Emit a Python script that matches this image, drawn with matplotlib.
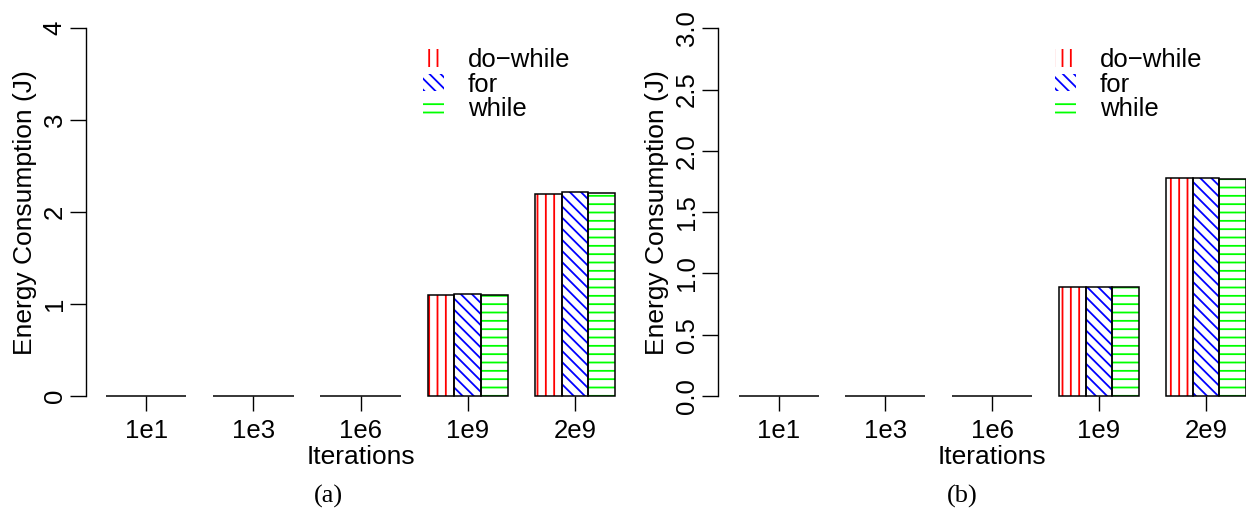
import matplotlib
matplotlib.use('Agg')
import matplotlib.pyplot as plt
from matplotlib.patches import Patch
import numpy as np

# ---------------- data ----------------
iterations = ['1e1', '1e3', '1e6', '1e9', '2e9']
loops = ['do\u2212while', 'for', 'while']

energy_a_dowhile = [0.0, 0.0, 0.001, 1.10, 2.20]
energy_a_for     = [0.0, 0.0, 0.001, 1.11, 2.22]
energy_a_while   = [0.0, 0.0, 0.001, 1.10, 2.21]

energy_b_dowhile = [0.0, 0.0, 0.001, 0.89, 1.78]
energy_b_for     = [0.0, 0.0, 0.001, 0.89, 1.78]
energy_b_while   = [0.0, 0.0, 0.001, 0.89, 1.77]

yticks_a = [0, 1, 2, 3, 4]
ytick_labels_a = ['0', '1', '2', '3', '4']
yticks_b = [0.0, 0.5, 1.0, 1.5, 2.0, 2.5, 3.0]
ytick_labels_b = ['0.0', '0.5', '1.0', '1.5', '2.0', '2.5', '3.0']

# ---------------- style ----------------
plt.rcParams['font.family'] = ['Liberation Sans', 'DejaVu Sans']
plt.rcParams['hatch.linewidth'] = 1.3
colors = ['#FF0000', '#0000FF', '#00FF00']
hatches = ['||', '\\\\\\', '--']
FS = 18.5
FS_LAB = 19
FS_LEG = 18.5

W, H = 1246, 512
fig = plt.figure(figsize=(W / 100, H / 100), dpi=100)


def px_axes(left, top, right, bottom):
    return fig.add_axes([left / W, 1 - bottom / H, (right - left) / W, (bottom - top) / H])


panels = [
    dict(box=(85.7, 28.3, 635.6, 396),
         series=[energy_a_dowhile, energy_a_for, energy_a_while],
         ylim=(0, 4), yticks=yticks_a, ylabels=ytick_labels_a,
         caption='(a)', cap_x=328, leg_x=423),
    dict(box=(718.3, 28.3, 1266.2, 396),
         series=[energy_b_dowhile, energy_b_for, energy_b_while],
         ylim=(0, 3), yticks=yticks_b, ylabels=ytick_labels_b,
         caption='(b)', cap_x=962, leg_x=1055),
]

n_groups = len(iterations)
n_series = len(loops)
group_idx = np.arange(n_groups)

for p in panels:
    left, top, right, bottom = p['box']
    ax = px_axes(left, top, right, bottom)
    # R barplot(beside=TRUE) layout: 1 unit gap before each group
    group_start = 1 + (n_series + 1) * group_idx
    for s, vals in enumerate(p['series']):
        xs = group_start + s + 0.5
        ax.bar(xs, vals, width=1.0, facecolor='white', edgecolor=colors[s],
               linewidth=0, hatch=hatches[s], zorder=2)
        ax.bar(xs, vals, width=1.0, fill=False, edgecolor='black',
               linewidth=1.1, zorder=3, clip_on=False)
    total = (n_series + 1) * n_groups
    pad = 0.04 * (total - 1)
    ax.set_xlim(1 - pad, total + pad)
    ax.set_ylim(*p['ylim'])

    for side in ['top', 'right', 'bottom']:
        ax.spines[side].set_visible(False)
    ax.spines['left'].set_bounds(p['ylim'][0], p['ylim'][1])
    ax.spines['left'].set_linewidth(1.0)

    ax.set_xticks(group_start + n_series / 2, iterations)
    ax.tick_params(axis='x', length=10.8, width=1.0, pad=6, labelsize=FS)
    ax.set_yticks(p['yticks'], p['ylabels'])
    ax.tick_params(axis='y', length=11.3, width=1.0, pad=2.5, labelsize=FS,
                   labelrotation=90)
    for lab in ax.get_yticklabels():
        lab.set_va('center')

    # axis labels
    cx = (left + right) / 2
    fig.text(cx / W, 1 - 464 / H, 'Iterations', ha='center', va='baseline',
             fontsize=FS_LAB)
    cy = (top + bottom) / 2
    fig.text((left - 54) / W, 1 - cy / H, 'Energy Consumption (J)',
             rotation=90, rotation_mode='anchor', ha='center', va='baseline',
             fontsize=FS_LAB)
    fig.text(p['cap_x'] / W, 1 - 503 / H, p['caption'], ha='center',
             va='baseline', fontsize=19, family='Liberation Serif')

    handles = [Patch(facecolor='white', edgecolor=colors[s], linewidth=0,
                     hatch=hatches[s], label=loops[s]) for s in range(n_series)]
    ax.legend(handles=handles, loc='upper left',
              bbox_to_anchor=(p['leg_x'] / W, 1 - 48 / H),
              bbox_transform=fig.transFigure, frameon=False, fontsize=FS_LEG,
              handlelength=0.8, handleheight=0.65, handletextpad=0.95,
              labelspacing=0.02, borderpad=0, borderaxespad=0)

fig.savefig('out.png', dpi=100)
